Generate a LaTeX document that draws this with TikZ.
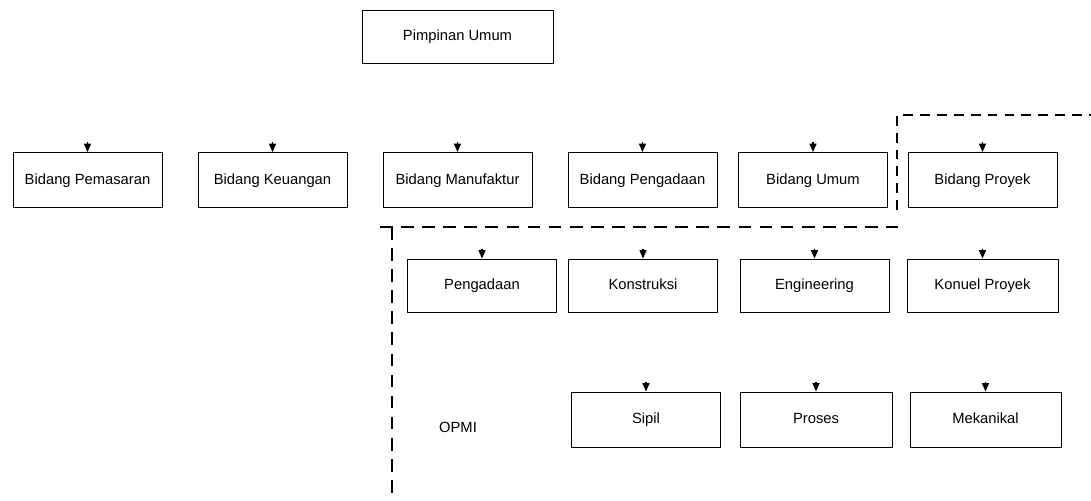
\documentclass[tikz,border=0pt]{standalone}
\usepackage{fontspec}
\setmainfont{Liberation Sans}
\usetikzlibrary{arrows.meta}

\begin{document}
\begin{tikzpicture}[x=0.025cm, y=-0.025cm]
    % settings for this chart
    \tikzset{
      unit/.style={draw, line width=0.5pt, minimum width=3.72cm, minimum height=1.38cm,
        inner sep=0pt, text height=1.6ex, text depth=0.4ex,
        font=\fontsize{10.5}{12}\selectfont},
      head/.style={line width=0.8pt, -{Triangle[width=5pt, length=6pt]}},
      border/.style={line width=1.3pt, dash pattern=on 9pt off 6pt},
      bracket/.style={line width=0.8pt, dash pattern=on 7pt off 5pt},
    }
    \useasboundingbox (0,0) rectangle (1091,500);

    % top
    \node[unit, minimum width=4.78cm, minimum height=1.33cm] at (457.5,36.5) (pimpinan) {Pimpinan Umum};

    % bidang
    \node[unit] at (87.5,180) (pemasaran) {Bidang Pemasaran};
    \node[unit] at (272.5,180) (keuangan) {Bidang Keuangan};
    \node[unit] at (457.5,180) (manufaktur) {Bidang Manufaktur};
    \node[unit] at (642.5,180) (pengadaan) {Bidang Pengadaan};
    \node[unit] at (813,180) (umum) {Bidang Umum};
    \node[unit] at (982.5,180) (proyek) {Bidang Proyek};

    % second level
    \node[unit, minimum height=1.33cm] at (482,285.5) (pgd) {Pengadaan};
    \node[unit, minimum height=1.33cm] at (643,285.5) (konstruksi) {Konstruksi};
    \node[unit, minimum height=1.33cm] at (814.5,285.5) (engineering) {Engineering};
    \node[unit, minimum height=1.33cm, minimum width=3.78cm] at (982.5,285.5) (konuel) {Konuel Proyek};

    % third level
    \node[unit] at (646,419.5) (sipil) {Sipil};
    \node[unit, minimum width=3.8cm] at (816,419.5) (proses) {Proses};
    \node[unit, minimum width=3.78cm] at (985.5,419.5) (mekanikal) {Mekanikal};
    \node[font=\fontsize{10.5}{12}\selectfont, text height=1.6ex, text depth=0.4ex] at (458,428) (opmi) {OPMI};

    % incoming arrows
    \foreach \n in {pemasaran, keuangan, manufaktur, pengadaan, umum, proyek,
                    pgd, konstruksi, engineering, konuel, sipil, proses, mekanikal} {
      \path (\n.north) ++(0,-10) coordinate (\n-in);
      \draw[head] (\n-in) -- (\n.north);
    }

    % dashed borders
    \coordinate (opmi-a) at (380,227);
    \coordinate (opmi-b) at (898,227);
    \coordinate (opmi-c) at (392,227);
    \coordinate (opmi-d) at (392,500);
    \draw[border] (opmi-a) -- (opmi-b);
    \draw[border] (opmi-c) -- (opmi-d);

    \coordinate (pry-a) at (897,210);
    \coordinate (pry-b) at (897,115);
    \coordinate (pry-c) at (1091,115);
    \draw[bracket] (pry-a) -- (pry-b) -- (pry-c);

  \end{tikzpicture}
\end{document}
